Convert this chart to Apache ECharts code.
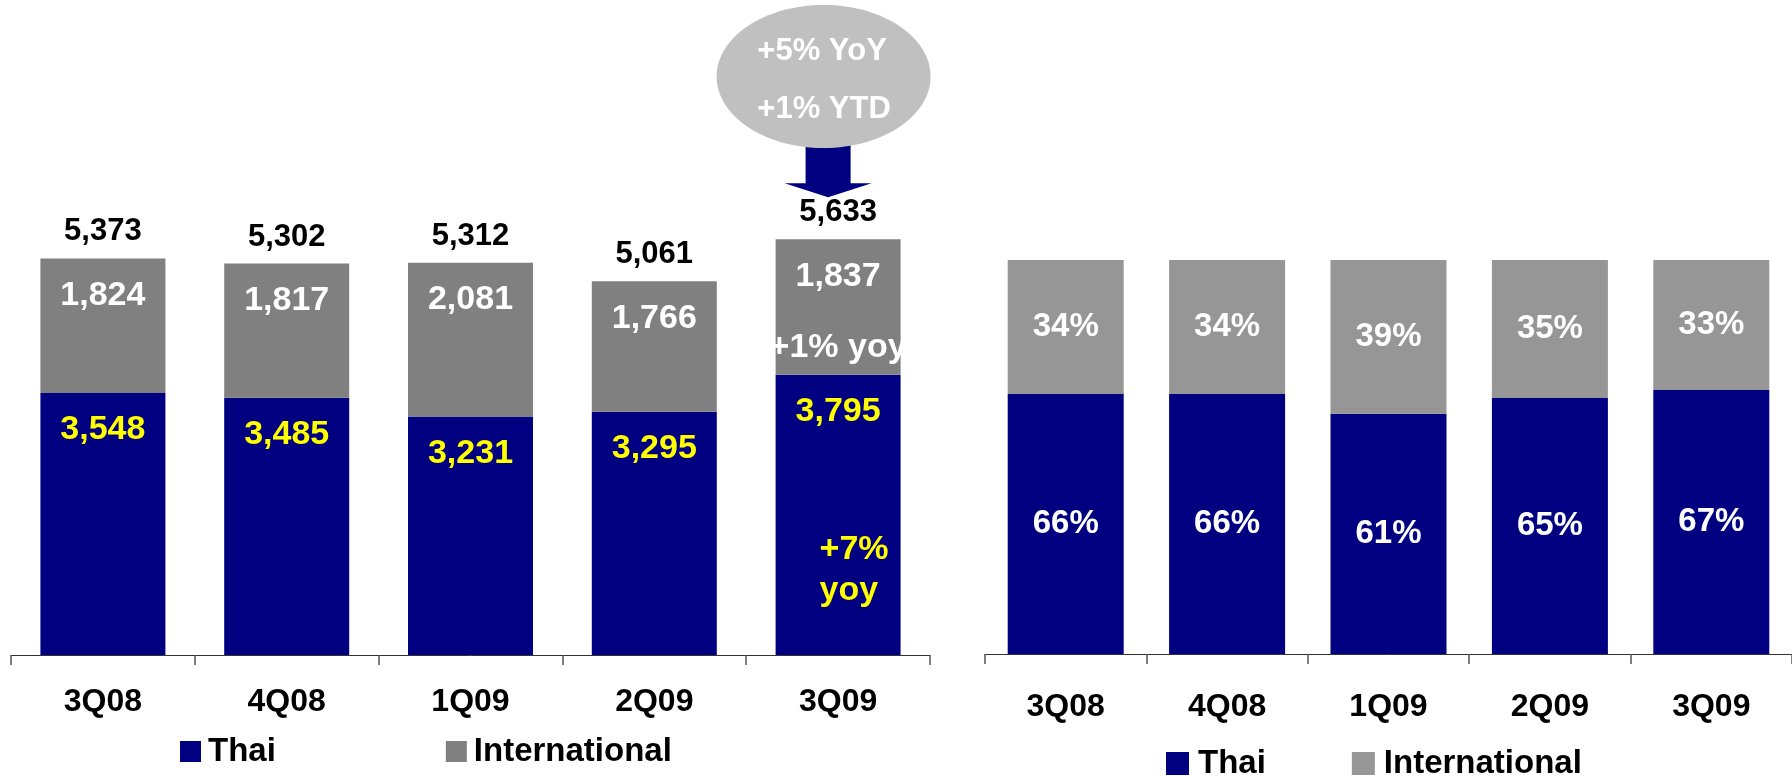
<!DOCTYPE html>
<html>
<head>
<meta charset="utf-8">
<title>Thai and International volume by quarter</title>
<script src="https://cdn.jsdelivr.net/npm/echarts@6/dist/echarts.min.js"></script>
<style>
  html, body { margin: 0; padding: 0; background: #ffffff; }
  #chart { width: 1792px; height: 776px; }
</style>
</head>
<body>
<div id="chart"></div>
<script>
// Quarterly volume split, absolute (left) and share (right)
const categories = ['3Q08', '4Q08', '1Q09', '2Q09', '3Q09'];
const thaiVolume = [3548, 3485, 3231, 3295, 3795];
const intlVolume = [1824, 1817, 2081, 1766, 1837];
const totalVolume = [5373, 5302, 5312, 5061, 5633];
const thaiShare = [66, 66, 61, 65, 67];
const intlShare = [34, 34, 39, 35, 33];

const FONT = '"Liberation Sans", Arial, Helvetica, sans-serif';
const NAVY = '#000080';
const GREY_L = '#808080';
const GREY_R = '#969696';

const fmt = v => Number(v).toLocaleString('en-US');

const chart = echarts.init(document.getElementById('chart'), null, { renderer: 'canvas' });

const axisCommon = {
  type: 'category',
  data: categories,
  boundaryGap: true,
  axisLine: { lineStyle: { color: '#333333', width: 1 } },
  axisTick: { show: true, length: 10, alignWithLabel: false, lineStyle: { color: '#555555', width: 1.5 } },
  splitLine: { show: false }
};

const legendText = { color: '#000000', fontFamily: FONT, fontWeight: 'bold', fontSize: 33, lineHeight: 33 };

const option = {
  animation: false,
  backgroundColor: '#ffffff',
  textStyle: { fontFamily: FONT },
  grid: [
    { left: 11, width: 919, top: 64.4, height: 590.6, containLabel: false },
    { left: 985, width: 810, top: 260, height: 394, containLabel: false }
  ],
  xAxis: [
    Object.assign({}, axisCommon, {
      gridIndex: 0,
      axisLabel: { margin: 31, color: '#000000', fontFamily: FONT, fontWeight: 'bold', fontSize: 32 }
    }),
    Object.assign({}, axisCommon, {
      gridIndex: 1,
      axisLabel: { margin: 37, color: '#000000', fontFamily: FONT, fontWeight: 'bold', fontSize: 32 }
    })
  ],
  yAxis: [
    { type: 'value', gridIndex: 0, min: 0, max: 8000, show: false, splitLine: { show: false } },
    { type: 'value', gridIndex: 1, min: 0, max: 100, show: false, splitLine: { show: false } }
  ],
  legend: [
    {
      data: ['Thai', 'International'],
      left: 175, top: 730,
      itemWidth: 21, itemHeight: 21, itemGap: 170,
      icon: 'rect',
      selectedMode: false,
      textStyle: Object.assign({ padding: [0, 0, 0, 2] }, legendText)
    },
    {
      data: [
        { name: 'Thai', itemStyle: { color: NAVY } },
        { name: 'International', itemStyle: { color: GREY_R } }
      ],
      left: 1161, top: 742,
      itemWidth: 23, itemHeight: 23, itemGap: 86,
      icon: 'rect',
      selectedMode: false,
      textStyle: Object.assign({ padding: [0, 0, 0, 4] }, legendText)
    }
  ],
  series: [
    {
      name: 'Thai', type: 'bar', stack: 'vol', xAxisIndex: 0, yAxisIndex: 0,
      data: thaiVolume, barWidth: 125, barGap: '-100%',
      itemStyle: { color: NAVY },
      label: {
        show: true, position: 'insideTop', distance: 20,
        color: '#FFFF00', fontFamily: FONT, fontWeight: 'bold', fontSize: 34,
        formatter: p => fmt(p.value)
      },
      emphasis: { disabled: true }
    },
    {
      name: 'International', type: 'bar', stack: 'vol', xAxisIndex: 0, yAxisIndex: 0,
      data: intlVolume, barWidth: 125, barGap: '-100%',
      itemStyle: { color: GREY_L },
      label: {
        show: true, position: 'insideTop', distance: 20,
        color: '#FFFFFF', fontFamily: FONT, fontWeight: 'bold', fontSize: 34,
        formatter: p => fmt(p.value)
      },
      emphasis: { disabled: true }
    },
    {
      // invisible overlay carrying the quarter totals and in-bar growth notes
      name: 'Total', type: 'bar', xAxisIndex: 0, yAxisIndex: 0,
      data: totalVolume, barWidth: 125, barGap: '-100%', z: 3, silent: true,
      itemStyle: { color: 'rgba(0,0,0,0)' },
      label: {
        show: true, position: 'top', distance: 11,
        color: '#000000', fontFamily: FONT, fontWeight: 'bold', fontSize: 31,
        formatter: p => fmt(p.value)
      },
      emphasis: { disabled: true },
      markPoint: {
        symbol: 'circle', symbolSize: 0, silent: true,
        itemStyle: { color: 'rgba(0,0,0,0)' },
        data: [
          {
            coord: ['3Q09', 4165],
            label: {
              show: true, position: 'inside', formatter: '+1% yoy',
              color: '#FFFFFF', fontFamily: FONT, fontWeight: 'bold', fontSize: 34
            }
          },
          {
            coord: ['3Q09', 1151],
            label: {
              show: true, position: 'inside', formatter: '+7%\nyoy',
              align: 'left', offset: [-18.5, 0], lineHeight: 41,
              color: '#FFFF00', fontFamily: FONT, fontWeight: 'bold', fontSize: 34
            }
          }
        ]
      }
    },
    {
      name: 'Thai', type: 'bar', stack: 'share', xAxisIndex: 1, yAxisIndex: 1,
      data: thaiShare, barWidth: 116,
      itemStyle: { color: NAVY },
      label: {
        show: true, position: 'inside',
        color: '#FFFFFF', fontFamily: FONT, fontWeight: 'bold', fontSize: 33,
        formatter: p => p.value + '%'
      },
      emphasis: { disabled: true }
    },
    {
      name: 'International', type: 'bar', stack: 'share', xAxisIndex: 1, yAxisIndex: 1,
      data: intlShare, barWidth: 116,
      itemStyle: { color: GREY_R },
      label: {
        show: true, position: 'inside',
        color: '#FFFFFF', fontFamily: FONT, fontWeight: 'bold', fontSize: 33,
        formatter: p => p.value + '%'
      },
      emphasis: { disabled: true }
    }
  ]
};

chart.setOption(option);

// Growth callout: grey bubble with a navy arrow pointing at the latest quarter's total
const last = categories.length - 1;
const anchor = chart.convertToPixel({ gridIndex: 0 }, [categories[last], totalVolume[last]]);
const bx = anchor[0];
const by = anchor[1];
const ax = bx - 10;
const tipY = by - 42;
const headY = tipY - 14;

chart.setOption({
  graphic: [
    {
      type: 'polygon', z: 10, silent: true,
      shape: {
        points: [
          [ax - 22.5, headY - 45], [ax + 22.5, headY - 45], [ax + 22.5, headY],
          [ax + 43.5, headY], [ax, tipY], [ax - 43.5, headY], [ax - 22.5, headY]
        ]
      },
      style: { fill: NAVY }
    },
    {
      type: 'ellipse', z: 11, silent: true,
      shape: { cx: bx - 14.5, cy: 76.5, rx: 107, ry: 71.5 },
      style: { fill: '#C0C0C0' }
    },
    {
      type: 'text', z: 12, silent: true,
      style: {
        text: '+5% YoY', x: bx - 16, y: 51, fill: '#FFFFFF',
        font: 'bold 31px ' + FONT, align: 'center', verticalAlign: 'middle'
      }
    },
    {
      type: 'text', z: 12, silent: true,
      style: {
        text: '+1% YTD', x: bx - 14, y: 109, fill: '#FFFFFF',
        font: 'bold 31px ' + FONT, align: 'center', verticalAlign: 'middle'
      }
    }
  ]
});
</script>
</body>
</html>
